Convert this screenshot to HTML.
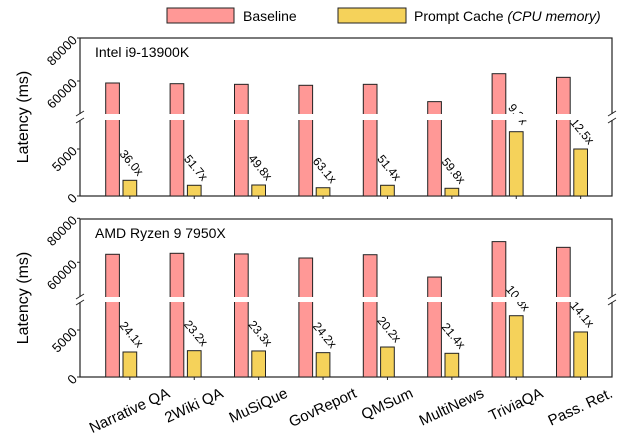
<!DOCTYPE html>
<html><head><meta charset="utf-8"><style>
html,body{margin:0;padding:0;background:#fff;}
svg{display:block;font-family:"Liberation Sans",Arial,sans-serif;}
</style></head><body>
<svg id="chart" width="633" height="436" viewBox="0 0 633 436" xmlns="http://www.w3.org/2000/svg">
  <g>
    <rect x="167" y="8" width="67" height="15" fill="#ff9896" stroke="#222" stroke-width="1"/>
    <text x="243" y="21" font-size="14">Baseline</text>
    <rect x="338" y="8" width="68" height="15" fill="#f5d25a" stroke="#222" stroke-width="1"/>
    <text x="414" y="21" font-size="14">Prompt Cache <tspan font-style="italic">(CPU memory)</tspan></text>
  </g>
</svg>
<script>
const categories = ["Narrative QA","2Wiki QA","MuSiQue","GovReport","QMSum","MultiNews","TriviaQA","Pass. Ret."];
const intelBaseline = [59070,58750,58450,58000,58450,50400,63400,61700];
const intelCache = [1670,1140,1170,880,1140,820,6840,5000];
const intelSpeedup = ["36.0x","51.7x","49.8x","63.1x","51.4x","59.8x","9.3x","12.5x"];
const amdBaseline = [63640,64090,63800,61950,63450,53300,69400,66800];
const amdCache = [2660,2800,2770,2590,3190,2520,6520,4790];
const amdSpeedup = ["24.1x","23.2x","23.3x","24.2x","20.2x","21.4x","10.8x","14.1x"];
const upperTicks = ["60000","80000"];
const lowerTicks = ["0","5000"];

const svg = document.getElementById('chart');
const NS = "http://www.w3.org/2000/svg";
function mk(tag, attrs, parent){ const e=document.createElementNS(NS,tag); for(const k in attrs) e.setAttribute(k,attrs[k]); (parent||svg).appendChild(e); return e; }

const X0=80, X1=612, groupStep=64.4, firstBar=105.7, barW=13.7, cacheOff=17.3;

function panel(cfg){
  const g = mk('g',{});
  
  
  const yUp = v => cfg.upY60 - (v-60000)*cfg.upPx/20000;
  const yLo = v => cfg.zeroY - v*47/5000;
  const y = v => v >= cfg.breakVal ? yUp(v) : yLo(v);
  const frame = mk('rect',{x:X0,y:cfg.top,width:X1-X0,height:cfg.zeroY-cfg.top,fill:'none',stroke:'#222','stroke-width':1.2},g);
  
  
  for(let i=0;i<categories.length;i++){
    const bx = firstBar + i*groupStep;
    const b = mk('rect',{x:bx,y:y(cfg.base[i]),width:barW,height:cfg.zeroY-y(cfg.base[i]),fill:'#ff9896',stroke:'#222','stroke-width':1},g);
    
    
    const cx = bx + cacheOff;
    const c = mk('rect',{x:cx,y:y(cfg.cache[i]),width:barW,height:cfg.zeroY-y(cfg.cache[i]),fill:'#f5d25a',stroke:'#222','stroke-width':1},g);
    
    
    const ly = y(cfg.cache[i]) - 17, lx = cx + barW/2 + 1;
    const t = mk('text',{x:lx,y:ly,'font-size':12,'text-anchor':'middle','dominant-baseline':'middle',transform:`rotate(50 ${lx} ${ly})`},g);
    t.textContent = cfg.speed[i];
    
    
  }
  mk('rect',{x:X0-4,y:cfg.brTop,width:X1-X0+8,height:cfg.brBot-cfg.brTop,fill:'#fff'},g);
  [X0,X1].forEach(xx=>{
    const l1 = mk('line',{x1:xx-4,y1:cfg.brTop+2,x2:xx+4,y2:cfg.brTop-3,stroke:'#222','stroke-width':1},g);
    
    
    const l2 = mk('line',{x1:xx-4,y1:cfg.brBot+3,x2:xx+4,y2:cfg.brBot-2,stroke:'#222','stroke-width':1},g);
    
    
  });
  const tickLabel = (s, ty) => {
    mk('line',{x1:X0-3,y1:ty,x2:X0,y2:ty,stroke:'#222'},g);
    const t = mk('text',{x:X0-5,y:ty+4,'font-size':13,'text-anchor':'end',transform:`rotate(-45 ${X0-5} ${ty})`},g);
    t.textContent=s;
    
    
  };
  upperTicks.forEach(s=>tickLabel(s, yUp(+s)));
  lowerTicks.forEach(s=>tickLabel(s, yLo(+s)));
  for(let i=0;i<categories.length;i++){
    const tx = firstBar + cacheOff + barW/2 + i*groupStep;
    mk('line',{x1:tx,y1:cfg.zeroY,x2:tx,y2:cfg.zeroY+3,stroke:'#222'},g);
  }
  const title = mk('text',{x:95,y:cfg.top+19,'font-size':14},g);
  title.textContent = cfg.title;
  
  
  const yt = mk('text',{x:0,y:0,'font-size':16,'text-anchor':'middle',transform:`translate(28 ${(cfg.top+cfg.zeroY)/2}) rotate(-90)`},g);
  yt.textContent='Latency (ms)';
  
  
}

panel({name:'intel-panel',title:'Intel i9-13900K',top:38,upY60:81,upPx:43,zeroY:196,breakVal:20000,brTop:114,brBot:120,base:intelBaseline,cache:intelCache,speed:intelSpeedup});
panel({name:'amd-panel',title:'AMD Ryzen 9 7950X',top:219,upY60:262.3,upPx:44,zeroY:377,breakVal:20000,brTop:297,brBot:302,base:amdBaseline,cache:amdCache,speed:amdSpeedup});

for(let i=0;i<categories.length;i++){
  const tx = firstBar + cacheOff + barW/2 + i*groupStep;
  const t = mk('text',{x:tx,y:0,'font-size':15,'text-anchor':'middle','dominant-baseline':'middle'});
  t.textContent = categories[i];
  
  
  const L = t.getComputedTextLength();
  const yc = 386 + (L/2)*Math.sin(25*Math.PI/180) + 7;
  t.setAttribute('y', yc);
  t.setAttribute('transform', `rotate(-25 ${tx} ${yc})`);
}
</script>
</body></html>
